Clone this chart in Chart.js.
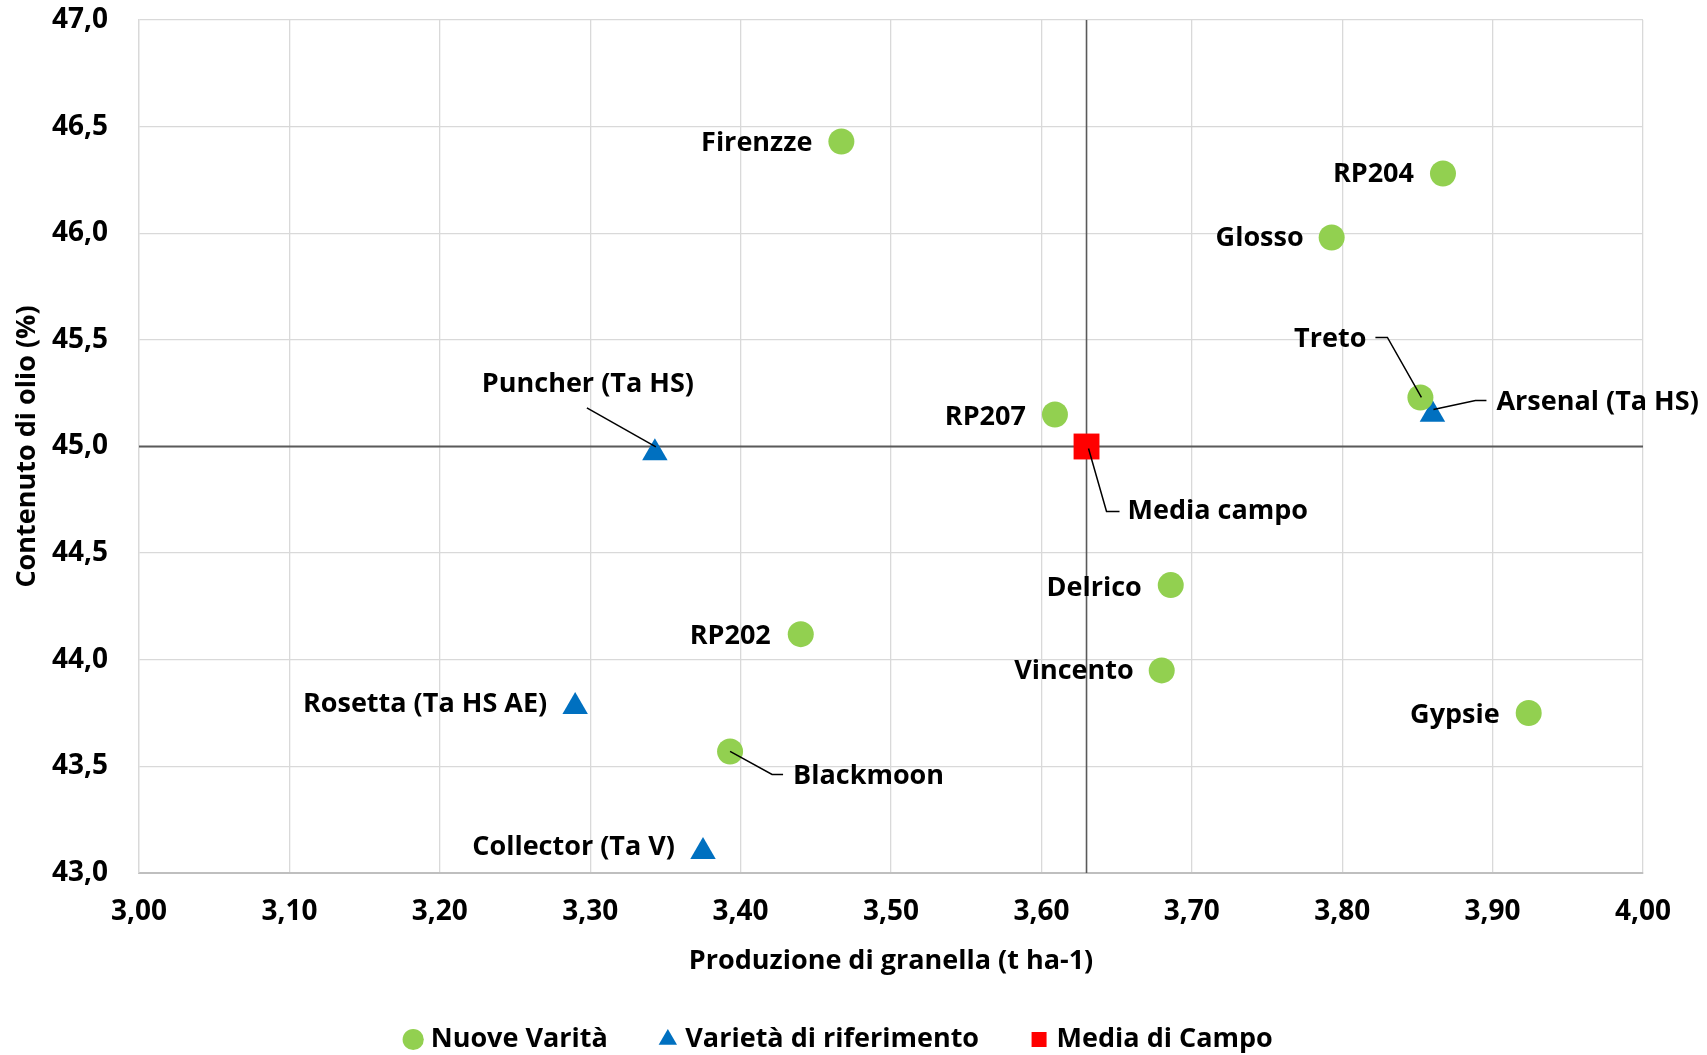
<!DOCTYPE html>
<html>
<head>
<meta charset="utf-8">
<title>Produzione di granella vs contenuto di olio</title>
<script src="https://cdn.jsdelivr.net/npm/chart.js@4.4.1/dist/chart.umd.min.js"></script>
<style>
  html, body { margin: 0; padding: 0; background: #fff; }
  #wrap { width: 1707px; height: 1055px; }
</style>
</head>
<body>
<div id="wrap"><canvas id="chart" width="1707" height="1055"></canvas></div>
<script>
// --- Data ---
const nuoveNames = ['Firenzze', 'RP204', 'Glosso', 'Treto', 'RP207', 'Delrico', 'RP202', 'Vincento', 'Gypsie', 'Blackmoon'];
const nuoveX = [3.467, 3.867, 3.793, 3.852, 3.609, 3.686, 3.440, 3.680, 3.924, 3.393];
const nuoveY = [46.43, 46.28, 45.98, 45.23, 45.15, 44.35, 44.12, 43.95, 43.75, 43.57];

const rifNames = ['Puncher (Ta HS)', 'Arsenal (Ta HS)', 'Rosetta (Ta HS AE)', 'Collector (Ta V)'];
const rifX = [3.343, 3.860, 3.290, 3.375];
const rifY = [44.97, 45.15, 43.78, 43.10];

const mediaNames = ['Media campo'];
const mediaX = [3.63];
const mediaY = [45.00];

const seriesLabels = ['Nuove Varità', 'Varietà di riferimento', 'Media di Campo'];
const xRange = [3.00, 4.00];
const yRange = [43.0, 47.0];

// --- Label placement (pixels relative to the point) ---
// dx/dy = text anchor, align = text alignment, leader = polyline
const labelLayout = {
  'Firenzze': { dx: -29, dy: 2, align: 'right' },
  'RP204': { dx: -29, dy: 1, align: 'right' },
  'Glosso': { dx: -28, dy: 1, align: 'right' },
  'RP207': { dx: -29, dy: 3, align: 'right' },
  'Delrico': { dx: -29, dy: 3, align: 'right' },
  'Vincento': { dx: -28, dy: 1, align: 'right' },
  'RP202': { dx: -30, dy: 2, align: 'right' },
  'Gypsie': { dx: -29, dy: 2, align: 'right' },
  'Rosetta (Ta HS AE)': { dx: -28, dy: -2, align: 'right' },
  'Collector (Ta V)': { dx: -28, dy: -4, align: 'right' },
  'Puncher (Ta HS)': { dx: -67, dy: -69, align: 'center', leader: [[-68, -45], [1, -6]] },
  'Treto': { dx: -54, dy: -58, align: 'right', leader: [[-45, -60], [-33, -60], [1, 0]] },
  'Arsenal (Ta HS)': { dx: 64, dy: -12, align: 'left', leader: [[54, -14], [43, -14], [1, -5]] },
  'Media campo': { dx: 41, dy: 65, align: 'left', leader: [[2, 2], [20, 65], [33, 65]] },
  'Blackmoon': { dx: 63, dy: 25, align: 'left', leader: [[0, 0], [42, 23], [53, 23]] }
};

const FONT = '"Open Sans"';

function toPoints(xs, ys) {
  return xs.map((x, i) => ({ x: x, y: ys[i] }));
}

const pointLabels = {
  id: 'pointLabels',
  afterDatasetsDraw(chart) {
    const ctx = chart.ctx;
    ctx.save();
    ctx.font = 'bold 27px ' + FONT;
    ctx.fillStyle = '#000';
    ctx.strokeStyle = '#000';
    ctx.lineWidth = 1.5;
    ctx.textBaseline = 'middle';
    chart.data.datasets.forEach((ds, di) => {
      if (!ds.names) return;
      const meta = chart.getDatasetMeta(di);
      meta.data.forEach((el, i) => {
        const lay = labelLayout[ds.names[i]];
        if (!lay) return;
        if (lay.leader) {
          ctx.beginPath();
          lay.leader.forEach((p, k) => {
            if (k === 0) ctx.moveTo(el.x + p[0], el.y + p[1]);
            else ctx.lineTo(el.x + p[0], el.y + p[1]);
          });
          ctx.stroke();
        }
        ctx.textAlign = lay.align;
        ctx.fillText(ds.names[i], el.x + lay.dx, el.y + lay.dy);
      });
    });
    ctx.restore();
  }
};

Chart.defaults.font.family = FONT;
Chart.defaults.color = '#000';

new Chart(document.getElementById('chart'), {
  type: 'scatter',
  data: {
    datasets: [
      {
        label: seriesLabels[0],
        names: nuoveNames,
        data: toPoints(nuoveX, nuoveY),
        pointStyle: 'circle',
        pointRadius: 13,
        backgroundColor: '#92d050',
        borderWidth: 0,
        order: 0
      },
      {
        label: seriesLabels[1],
        names: rifNames,
        data: toPoints(rifX, rifY),
        pointStyle: 'triangle',
        pointRadius: 14.7,
        backgroundColor: '#0070c0',
        borderWidth: 0,
        order: 0
      },
      {
        label: seriesLabels[2],
        names: mediaNames,
        data: toPoints(mediaX, mediaY),
        pointStyle: 'rect',
        pointRadius: 18.3,
        backgroundColor: '#ff0000',
        borderWidth: 0,
        order: 0
      },
      {
        label: 'h',
        data: [{ x: xRange[0], y: mediaY[0] }, { x: xRange[1], y: mediaY[0] }],
        showLine: true,
        pointRadius: 0,
        borderColor: '#5a5a5a',
        borderWidth: 2,
        order: 1
      },
      {
        label: 'v',
        data: [{ x: mediaX[0], y: yRange[0] }, { x: mediaX[0], y: yRange[1] }],
        showLine: true,
        pointRadius: 0,
        borderColor: '#5a5a5a',
        borderWidth: 1.6,
        order: 1
      }
    ]
  },
  options: {
    responsive: false,
    animation: false,
    events: [],
    layout: { padding: { left: 39, right: 64, top: 20, bottom: 0 } },
    scales: {
      x: {
        type: 'linear',
        min: xRange[0], max: xRange[1],
        grid: { color: '#d9d9d9', lineWidth: 1.3, drawTicks: false },
        border: { color: '#bfbfbf', width: 2 },
        ticks: {
          stepSize: 0.1,
          padding: 22,
          autoSkip: false,
          maxRotation: 0,
          font: { size: 28, weight: 'bold' },
          callback: v => v.toFixed(2).replace('.', ',')
        },
        title: {
          display: true,
          text: 'Produzione di granella (t ha-1)',
          font: { size: 27, weight: 'bold' },
          padding: { top: 0, bottom: -8 }
        },
        afterFit: s => { s.height = 97; }
      },
      y: {
        type: 'linear',
        min: yRange[0], max: yRange[1],
        grid: { color: '#d9d9d9', lineWidth: 1.3, drawTicks: false },
        border: { color: '#d9d9d9', width: 1.3 },
        ticks: {
          stepSize: 0.5,
          padding: 31,
          font: { size: 28, weight: 'bold' },
          callback: v => v.toFixed(1).replace('.', ',')
        },
        title: {
          display: true,
          text: 'Contenuto di olio (%)',
          font: { size: 27, weight: 'bold' },
          padding: { top: -28, bottom: 0 }
        },
        afterFit: s => { s.width = 100; s.paddingTop = 0; s.paddingBottom = 0; }
      }
    },
    plugins: {
      tooltip: { enabled: false },
      legend: {
        position: 'bottom',
        maxHeight: 85,
        labels: {
          filter: item => item.datasetIndex < 3,
          usePointStyle: true,
          boxWidth: 8,
          boxHeight: 15,
          padding: 56,
          font: { size: 27, weight: 'bold' }
        }
      }
    }
  },
  plugins: [pointLabels]
});
</script>
</body>
</html>
